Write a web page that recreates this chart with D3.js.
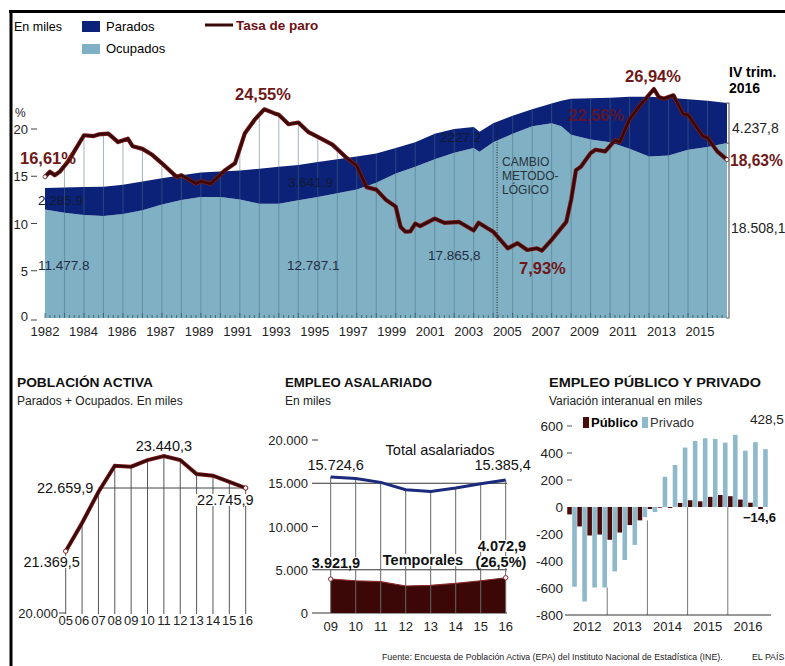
<!DOCTYPE html>
<html>
<head>
<meta charset="utf-8">
<script src="https://cdn.jsdelivr.net/npm/d3@7/dist/d3.min.js"></script>
<style>
  body { margin: 0; background: #fff; }
  svg { display: block; font-family: "Liberation Sans", Arial, sans-serif; }
</style>
</head>
<body>
<svg id="chart" width="785" height="666"></svg>
<script>
// ---- datos: gráfico principal (miles) ----
var areaT = [1982, 1983, 1984, 1985, 1986, 1987, 1988, 1989, 1990, 1991, 1992, 1993, 1994, 1995, 1996, 1997, 1998, 1999,
  2000, 2001, 2002, 2003, 2004, 2004.3, 2005, 2006, 2007, 2008, 2008.5, 2009, 2010, 2011, 2012, 2013, 2014, 2015, 2016, 2017];
var ocupados = [11477.8, 11150, 10900, 10800, 11000, 11400, 12000, 12500, 12800, 12800, 12550, 12100, 12100, 12450, 12800,
  13200, 13600, 14300, 15300, 16000, 16800, 17500, 18000, 17600, 18600, 19500, 20300, 20600, 20300, 19400, 18900, 18600,
  17900, 17100, 17200, 17800, 18100, 18508.1];
var parados = [2285.9, 2650, 2950, 3100, 3100, 3050, 2800, 2600, 2600, 2700, 3050, 3700, 3900, 3750, 3700, 3600, 3500,
  3100, 2700, 2600, 2700, 2500, 2200, 2100, 2000, 1900, 1800, 2100, 2700, 3800, 4350, 4700, 5500, 6300, 6100, 5350, 4900, 4237.8];

// tasa de paro (%)
var tasaT = [1982, 1982.25, 1982.5, 1982.75, 1983.25, 1983.5, 1984, 1984.5, 1984.75, 1985.25, 1985.75, 1986.25, 1986.5,
  1987, 1987.5, 1988, 1988.75, 1989, 1989.75, 1990, 1990.5, 1991.25, 1991.75, 1992.25, 1992.75, 1993.25, 1993.75, 1994,
  1994.5, 1995, 1995.5, 1996, 1996.75, 1997.5, 1998, 1998.5, 1999, 1999.5, 2000, 2000.25, 2000.5, 2000.75, 2001, 2001.25,
  2002, 2002.5, 2003.25, 2004, 2004.25, 2005, 2005.75, 2006.25, 2006.75, 2007.25, 2007.5, 2008, 2008.75, 2009, 2009.25,
  2009.5, 2010, 2010.25, 2010.75, 2011.25, 2011.5, 2012, 2012.5, 2013.25, 2013.5, 2013.75, 2014.25, 2014.75, 2015,
  2015.75, 2016, 2016.5, 2017];
var tasa = [16.61, 17.2, 16.8, 17.2, 18.6, 19.6, 21.5, 21.4, 21.6, 21.7, 20.7, 21.1, 20.2, 19.9, 19.2, 18.2, 16.6, 16.8,
  15.8, 16.1, 15.8, 17.4, 18.2, 21.7, 23.3, 24.55, 24.1, 23.9, 22.8, 23.0, 21.9, 21.3, 20.4, 18.8, 17.9, 15.4, 15.1, 13.9,
  13.1, 10.7, 10.15, 10.2, 11.1, 10.8, 11.7, 11.2, 11.3, 10.3, 11.2, 10.15, 8.2, 8.8, 8.0, 8.2, 7.93, 9.2, 11.3, 13.9,
  17.4, 17.8, 19.4, 19.8, 19.6, 20.9, 20.7, 23.4, 24.9, 26.94, 26.0, 25.8, 26.2, 24.0, 23.9, 21.4, 21.2, 19.6, 18.63];

var ejeLabels = ["1982", "1984", "1986", "1987", "1989", "1991", "1993", "1995", "1997", "1999", "2001", "2003", "2005",
  "2007", "2009", "2011", "2013", "2015"];

// población activa
var activaYears = ["05", "06", "07", "08", "09", "10", "11", "12", "13", "14", "15", "16"];
var activa = [21369.5, 21983, 22659.9, 23232, 23210, 23355, 23440.3, 23355, 23050, 23015, 22880, 22745.9];

// empleo asalariado
var asalYears = ["09", "10", "11", "12", "13", "14", "15", "16"];
var asalTotal = [15724.6, 15560, 15100, 14250, 14060, 14450, 14950, 15385.4];
var asalTemp = [3921.9, 3730, 3620, 3120, 3200, 3430, 3730, 4072.9];

// empleo público y privado (variación interanual)
var trimestres = ["12T1", "12T2", "12T3", "12T4", "13T1", "13T2", "13T3", "13T4", "14T1", "14T2", "14T3", "14T4",
  "15T1", "15T2", "15T3", "15T4", "16T1", "16T2", "16T3", "16T4"];
var publico = [-55, -144, -211, -204, -243, -189, -134, -99, -15, -5, -7, 30, 50, 42, 75, 89, 80, 55, 32, -14.6];
var privado = [-591, -700, -596, -596, -477, -393, -281, -75, -37, 224, 311, 440, 489, 509, 504, 477, 534, 417, 480, 428.5];
var pubYears = ["2012", "2013", "2014", "2015", "2016"];

var NAVY = "#0b2278", CELESTE = "#80b0c4", GRANATE = "#3a0808", ROJO = "#6e1818";

var svg = d3.select("#chart");

// marco
svg.append("line").attr("x1", 9).attr("x2", 785).attr("y1", 11.5).attr("y2", 11.5).attr("stroke", "#000").attr("stroke-width", 3);
svg.append("line").attr("x1", 11).attr("x2", 11).attr("y1", 10).attr("y2", 666).attr("stroke", "#000").attr("stroke-width", 3);

// ---------- gráfico principal ----------
var x = d3.scaleLinear().domain([1982, 2017]).range([45, 727]);
var y = d3.scaleLinear().domain([0, 20000]).range([318, 129]);
var yTasa = d3.scaleLinear().domain([0, 25]).range([318, 105.5]);

var total = ocupados.map(function(o, i) { return o + parados[i]; });

var areaOcup = d3.area()
  .x(function(d, i) { return x(areaT[i]); })
  .y0(y(0))
  .y1(function(d, i) { return y(ocupados[i]); });
var areaTotal = d3.area()
  .x(function(d, i) { return x(areaT[i]); })
  .y0(y(0))
  .y1(function(d, i) { return y(total[i]); });
var areaPar = d3.area()
  .x(function(d, i) { return x(areaT[i]); })
  .y0(function(d, i) { return y(ocupados[i]); })
  .y1(function(d, i) { return y(total[i]); });
var lineTasa = d3.line()
  .x(function(d, i) { return x(tasaT[i]); })
  .y(function(d, i) { return yTasa(tasa[i]); });
var areaTasa = d3.area()
  .x(function(d, i) { return x(tasaT[i]); })
  .y0(y(0))
  .y1(function(d, i) { return yTasa(tasa[i]); });

var defs = svg.append("defs");
var clip = defs.append("clipPath").attr("id", "bajo");
clip.append("path").attr("d", areaTotal(areaT));
clip.append("path").attr("d", areaTasa(tasaT));

var g = svg.append("g");
g.append("path").attr("d", areaOcup(areaT)).attr("fill", CELESTE);
g.append("path").attr("d", areaPar(areaT)).attr("fill", NAVY);

// líneas verticales por año
g.append("g").attr("clip-path", "url(#bajo)")
  .selectAll("line").data(d3.range(1983, 2017)).join("line")
  .attr("x1", function(d) { return x(d); }).attr("x2", function(d) { return x(d); })
  .attr("y1", y(0)).attr("y2", 60)
  .attr("stroke", "#4a6e80").attr("stroke-opacity", 0.5).attr("stroke-width", 1);

// marcas trimestrales
g.append("g").selectAll("line").data(d3.range(0, 140)).join("line")
  .attr("x1", function(d) { return x(1982 + d / 4); }).attr("x2", function(d) { return x(1982 + d / 4); })
  .attr("y1", y(0)).attr("y2", function(d) { return y(0) - (d % 4 === 0 ? 5 : 3); })
  .attr("stroke", "#3e5a68").attr("stroke-width", 0.8);

// cambio metodológico
g.append("line").attr("x1", x(2005.2)).attr("x2", x(2005.2)).attr("y1", y(0)).attr("y2", y(20700))
  .attr("stroke", "#222").attr("stroke-dasharray", "1,1.5").attr("stroke-width", 1);
g.append("text").attr("x", x(2005.2) + 5).attr("y", 166).attr("font-size", 12).attr("fill", "#26343d")
  .selectAll("tspan").data(["CAMBIO", "METODO-", "LÓGICO"]).join("tspan")
  .attr("x", x(2005.2) + 5).attr("dy", function(d, i) { return i ? 14 : 0; }).text(function(d) { return d; });

// cifras sobre las áreas
var cifras = [["2.285.9", 38, 205, "#111a33"], ["11.477.8", 38, 270, "#1e2d44"], ["3.641.9", 288, 187, "#111a33"],
  ["12.787.1", 287, 270, "#1e2d44"], ["2227.2", 440, 142, "#111a33"], ["17.865,8", 428, 260, "#1e2d44"]];
g.append("g").selectAll("text").data(cifras).join("text")
  .attr("x", function(d) { return d[1]; }).attr("y", function(d) { return d[2]; })
  .attr("font-size", 13.5).attr("fill", function(d) { return d[3]; }).text(function(d) { return d[0]; });

// línea de la tasa
g.append("path").attr("d", lineTasa(tasaT)).attr("fill", "none").attr("stroke", "#7a1c1c").attr("stroke-width", 4.2).attr("stroke-linejoin", "round");
g.append("path").attr("d", lineTasa(tasaT)).attr("fill", "none").attr("stroke", GRANATE).attr("stroke-width", 2.6).attr("stroke-linejoin", "round");
g.selectAll("circle.pt").data([0, tasa.length - 1]).join("circle")
  .attr("cx", function(i) { return x(tasaT[i]); }).attr("cy", function(i) { return yTasa(tasa[i]); })
  .attr("r", 2).attr("fill", "#fff").attr("stroke", "#7a1c1c").attr("stroke-width", 0.8);

var etiquetasTasa = [["16,61%", 20, 164], ["24,55%", 235, 100], ["22,56%", 568, 121], ["7,93%", 519, 274],
  ["26,94%", 625, 82], ["18,63%", 730, 166]];
g.append("g").selectAll("text").data(etiquetasTasa).join("text")
  .attr("x", function(d) { return d[1]; }).attr("y", function(d) { return d[2]; })
  .attr("font-size", function(d) { return d[0] === "18,63%" ? 15.6 : 16.5; }).attr("font-weight", "bold")
  .attr("fill", function(d) { return d[0] === "22,56%" ? "#5a1530" : ROJO; })
  .text(function(d) { return d[0]; });

// corchete del último trimestre
var xr = x(2017) + 2;
g.append("path").attr("d", "M" + (xr - 3) + "," + y(total[total.length - 1]) + "H" + xr + "V" + y(0) + "H" + (xr - 3)
  + "M" + xr + "," + y(ocupados[ocupados.length - 1]) + "h-3")
  .attr("fill", "none").attr("stroke", "#666").attr("stroke-width", 1.2);
g.append("text").attr("x", 732).attr("y", 133).attr("font-size", 14).attr("fill", "#222").text("4.237,8");
g.append("text").attr("x", 731).attr("y", 233).attr("font-size", 14).attr("fill", "#222").text("18.508,1");
g.append("text").attr("x", 729).attr("y", 77).attr("font-size", 14).attr("font-weight", "bold").text("IV trim.");
g.append("text").attr("x", 729).attr("y", 93).attr("font-size", 14).attr("font-weight", "bold").text("2016");

// eje Y
var yt = g.append("g").selectAll("g").data([0, 5, 10, 15, 20]).join("g")
  .attr("transform", function(d) { return "translate(0," + y(d * 1000) + ")"; });
yt.append("text").attr("x", 28).attr("y", function(d) { return d ? 5 : 3; }).attr("text-anchor", "end")
  .attr("font-size", 13).attr("fill", "#222").text(function(d) { return d; });
yt.append("line").attr("x1", 31).attr("x2", 37).attr("y1", function(d) { return d ? 0 : 2; }).attr("y2", function(d) { return d ? 0 : 2; })
  .attr("stroke", "#444");
g.append("text").attr("x", 15).attr("y", 117).attr("font-size", 12).attr("fill", "#222").text("%");

// eje X
var xl = d3.scalePoint().domain(ejeLabels).range([45, 700]);
g.append("g").selectAll("text").data(ejeLabels).join("text")
  .attr("x", function(d) { return xl(d); }).attr("y", 336).attr("text-anchor", "middle")
  .attr("font-size", 13).attr("fill", "#222").text(function(d) { return d; });

// leyenda
svg.append("text").attr("x", 14).attr("y", 31).attr("font-size", 12.5).text("En miles");
svg.append("rect").attr("x", 82).attr("y", 21).attr("width", 18).attr("height", 11).attr("fill", NAVY);
svg.append("text").attr("x", 106).attr("y", 31).attr("font-size", 13).text("Parados");
svg.append("rect").attr("x", 82).attr("y", 44).attr("width", 18).attr("height", 10).attr("fill", CELESTE);
svg.append("text").attr("x", 106).attr("y", 53).attr("font-size", 13).text("Ocupados");
svg.append("line").attr("x1", 205).attr("x2", 233).attr("y1", 25).attr("y2", 25).attr("stroke", GRANATE).attr("stroke-width", 3);
svg.append("text").attr("x", 236).attr("y", 30).attr("font-size", 13.5).attr("font-weight", "bold").attr("fill", "#6b0f14").text("Tasa de paro");

// ---------- títulos de los paneles ----------
function titulo(tx, t1, w, t2) {
  svg.append("text").attr("x", tx).attr("y", 387).attr("font-size", 13.5).attr("font-weight", "bold").attr("fill", "#111")
    .attr("textLength", w).attr("lengthAdjust", "spacingAndGlyphs").text(t1);
  svg.append("text").attr("x", tx).attr("y", 405).attr("font-size", 12).attr("fill", "#222").text(t2);
}
titulo(17, "POBLACIÓN ACTIVA", 136, "Parados + Ocupados. En miles");
titulo(285, "EMPLEO ASALARIADO", 147, "En miles");
titulo(549, "EMPLEO PÚBLICO Y PRIVADO", 212, "Variación interanual en  miles");

// etiqueta con fondo blanco (tapa las líneas verticales)
function etiqueta(p, txt, tx, ty, anchor, bold) {
  var t = p.append("text").attr("x", tx).attr("y", ty).attr("text-anchor", anchor || "start")
    .attr("font-size", 14.5).attr("fill", "#111").attr("font-weight", bold ? "bold" : "normal").text(txt);
  var b = t.node().getBBox();
  p.insert("rect", function() { return t.node(); })
    .attr("x", b.x - 1).attr("y", b.y + 2).attr("width", b.width + 2).attr("height", ty + 1 - (b.y + 2)).attr("fill", "#fff");
  return t;
}

// ---------- población activa ----------
var x1 = d3.scalePoint().domain(activaYears).range([65.7, 245.7]);
var y1 = d3.scaleLinear().domain([20000, 23500]).range([614, 453.4]);
var p1 = svg.append("g");
p1.selectAll("line.v").data(activaYears).join("line")
  .attr("x1", function(d) { return x1(d); }).attr("x2", function(d) { return x1(d); })
  .attr("y1", y1(20000)).attr("y2", function(d, i) { return y1(activa[i]); })
  .attr("stroke", "#555").attr("stroke-width", 1);
p1.append("line").attr("x1", x1("07")).attr("x2", x1("16"))
  .attr("y1", y1(activa[activa.length - 1])).attr("y2", y1(activa[activa.length - 1])).attr("stroke", "#444");
etiqueta(p1, "23.440,3", x1("11"), 451, "middle");
etiqueta(p1, "22.659,9", x1("07") - 5, 493, "end");
etiqueta(p1, "22.745,9", x1("15") - 4, 505, "middle");
etiqueta(p1, "21.369,5", x1("05") - 14, 567, "middle");
var line1 = d3.line().x(function(d, i) { return x1(activaYears[i]); }).y(function(d) { return y1(d); });
p1.append("path").attr("d", line1(activa)).attr("fill", "none").attr("stroke", "#7a1c1c").attr("stroke-width", 4);
p1.append("path").attr("d", line1(activa)).attr("fill", "none").attr("stroke", GRANATE).attr("stroke-width", 2.4);
p1.selectAll("circle").data([0, activa.length - 1]).join("circle")
  .attr("cx", function(i) { return x1(activaYears[i]); }).attr("cy", function(i) { return y1(activa[i]); })
  .attr("r", 2.2).attr("fill", "#fff").attr("stroke", "#7a1c1c");
p1.append("text").attr("x", 58).attr("y", 618).attr("text-anchor", "end").attr("font-size", 13).attr("fill", "#222").text("20.000");
p1.append("line").attr("x1", 59).attr("x2", x1("05")).attr("y1", 613).attr("y2", 613).attr("stroke", "#444");
p1.selectAll("text.x").data(activaYears).join("text")
  .attr("x", function(d) { return x1(d); }).attr("y", 625).attr("text-anchor", "middle")
  .attr("font-size", 13).attr("fill", "#222").text(function(d) { return d; });

// ---------- empleo asalariado ----------
var x2 = d3.scalePoint().domain(asalYears).range([330.7, 505.7]);
var y2 = d3.scaleLinear().domain([0, 20000]).range([613, 440]);
var p2 = svg.append("g");
[15000, 5000, 0].forEach(function(v) {
  p2.append("line").attr("x1", 312).attr("x2", 507).attr("y1", y2(v)).attr("y2", y2(v)).attr("stroke", "#333");
});
[20000, 10000].forEach(function(v) {
  p2.append("line").attr("x1", 312).attr("x2", 318).attr("y1", y2(v)).attr("y2", y2(v)).attr("stroke", "#333");
});
p2.selectAll("text.y").data([20000, 15000, 10000, 5000, 0]).join("text")
  .attr("x", 308).attr("y", function(d) { return y2(d) + 5; }).attr("text-anchor", "end")
  .attr("font-size", 13).attr("fill", "#222").text(function(d) { return d ? d3.format(",")(d).replace(",", ".") : "0"; });
var area2 = d3.area().x(function(d, i) { return x2(asalYears[i]); }).y0(y2(0)).y1(function(d) { return y2(d); });
var line2 = d3.line().x(function(d, i) { return x2(asalYears[i]); }).y(function(d) { return y2(d); });
p2.append("path").attr("d", area2(asalTemp)).attr("fill", "#3c0707");
p2.selectAll("line.v").data(asalYears).join("line")
  .attr("x1", function(d) { return x2(d); }).attr("x2", function(d) { return x2(d); })
  .attr("y1", y2(0)).attr("y2", function(d, i) { return y2(asalTotal[i]); })
  .attr("stroke", "#666").attr("stroke-width", 1);
p2.append("path").attr("d", line2(asalTemp)).attr("fill", "none").attr("stroke", "#8a2a2a").attr("stroke-width", 1.2);
p2.append("path").attr("d", line2(asalTotal)).attr("fill", "none").attr("stroke", "#1b2a7a").attr("stroke-width", 3);
p2.selectAll("circle").data([0, asalTemp.length - 1]).join("circle")
  .attr("cx", function(i) { return x2(asalYears[i]); }).attr("cy", function(i) { return y2(asalTemp[i]); })
  .attr("r", 2.2).attr("fill", "#fff").attr("stroke", "#8a2a2a");
etiqueta(p2, "Total asalariados", 440, 455, "middle");
etiqueta(p2, "15.724,6", x2("09") + 5, 470, "middle");
etiqueta(p2, "15.385,4", x2("16") - 3, 470, "middle");
etiqueta(p2, "4.072,9", 502, 551, "middle", true);
etiqueta(p2, "(26,5%)", 501, 567, "middle", true);
etiqueta(p2, "3.921,9", 336, 568, "middle", true);
etiqueta(p2, "Temporales", 423, 565, "middle", true);
p2.selectAll("text.x").data(asalYears).join("text")
  .attr("x", function(d) { return x2(d); }).attr("y", 631).attr("text-anchor", "middle")
  .attr("font-size", 13).attr("fill", "#222").text(function(d) { return d; });

// ---------- empleo público y privado ----------
var xq = d3.scaleBand().domain(trimestres).range([567, 768]);
var xs = d3.scaleBand().domain(["pub", "priv"]).range([0, xq.bandwidth()]).paddingInner(0.08).paddingOuter(0.05);
var y3 = d3.scaleLinear().domain([-800, 600]).range([615, 426]);
var p3 = svg.append("g");
[2013, 2014, 2015, 2016].forEach(function(yr, k) {
  var i = (k + 1) * 4;
  var v = Math.min(0, privado[i - 1], privado[i], publico[i - 1], publico[i]);
  p3.append("line").attr("x1", xq(trimestres[i])).attr("x2", xq(trimestres[i]))
    .attr("y1", y3(-800)).attr("y2", y3(v)).attr("stroke", "#777");
});
p3.selectAll("rect.pub").data(publico).join("rect")
  .attr("x", function(d, i) { return xq(trimestres[i]) + xs("pub"); }).attr("width", xs.bandwidth())
  .attr("y", function(d) { return y3(Math.max(0, d)); }).attr("height", function(d) { return Math.abs(y3(d) - y3(0)); })
  .attr("fill", "#4a0b0b");
p3.selectAll("rect.priv").data(privado).join("rect")
  .attr("x", function(d, i) { return xq(trimestres[i]) + xs("priv"); }).attr("width", xs.bandwidth())
  .attr("y", function(d) { return y3(Math.max(0, d)); }).attr("height", function(d) { return Math.abs(y3(d) - y3(0)); })
  .attr("fill", "#8db9cb");
p3.append("line").attr("x1", 565).attr("x2", 771).attr("y1", y3(-800)).attr("y2", y3(-800)).attr("stroke", "#333");
p3.selectAll("text.y").data([600, 400, 200, 0, -200, -400, -600, -800]).join("text")
  .attr("x", 563).attr("y", function(d) { return y3(d) + 5; }).attr("text-anchor", "end")
  .attr("font-size", 13.5).attr("fill", "#222").text(function(d) { return d; });
[600, 400, 200].forEach(function(v) {
  p3.append("line").attr("x1", 567).attr("x2", 572).attr("y1", y3(v)).attr("y2", y3(v)).attr("stroke", "#555");
});
p3.selectAll("text.x").data(pubYears).join("text")
  .attr("x", function(d, k) { return xq(trimestres[k * 4]) + xq.bandwidth() * 2; }).attr("y", 631).attr("text-anchor", "middle")
  .attr("font-size", 13).attr("fill", "#222").text(function(d) { return d; });
p3.append("rect").attr("x", 583).attr("y", 417).attr("width", 6).attr("height", 11).attr("fill", "#4a0b0b");
p3.append("text").attr("x", 591).attr("y", 427).attr("font-size", 13).attr("font-weight", "bold").text("Público");
p3.append("rect").attr("x", 642).attr("y", 417).attr("width", 6).attr("height", 11).attr("fill", "#8db9cb");
p3.append("text").attr("x", 650).attr("y", 427).attr("font-size", 13).attr("fill", "#333").text("Privado");
p3.append("text").attr("x", 750).attr("y", 424).attr("font-size", 13.5).attr("fill", "#222").text("428,5");
p3.append("text").attr("x", 743).attr("y", 522).attr("font-size", 13).attr("font-weight", "bold").attr("fill", "#111").text("−14,6");

// fuente
svg.append("text").attr("x", 382).attr("y", 660).attr("font-size", 8.8).attr("fill", "#222")
  .text("Fuente: Encuesta de Población Activa (EPA) del Instituto Nacional de Estadística (INE).");
svg.append("text").attr("x", 752).attr("y", 660).attr("font-size", 8.8).attr("fill", "#222").text("EL PAÍS");
</script>
</body>
</html>
